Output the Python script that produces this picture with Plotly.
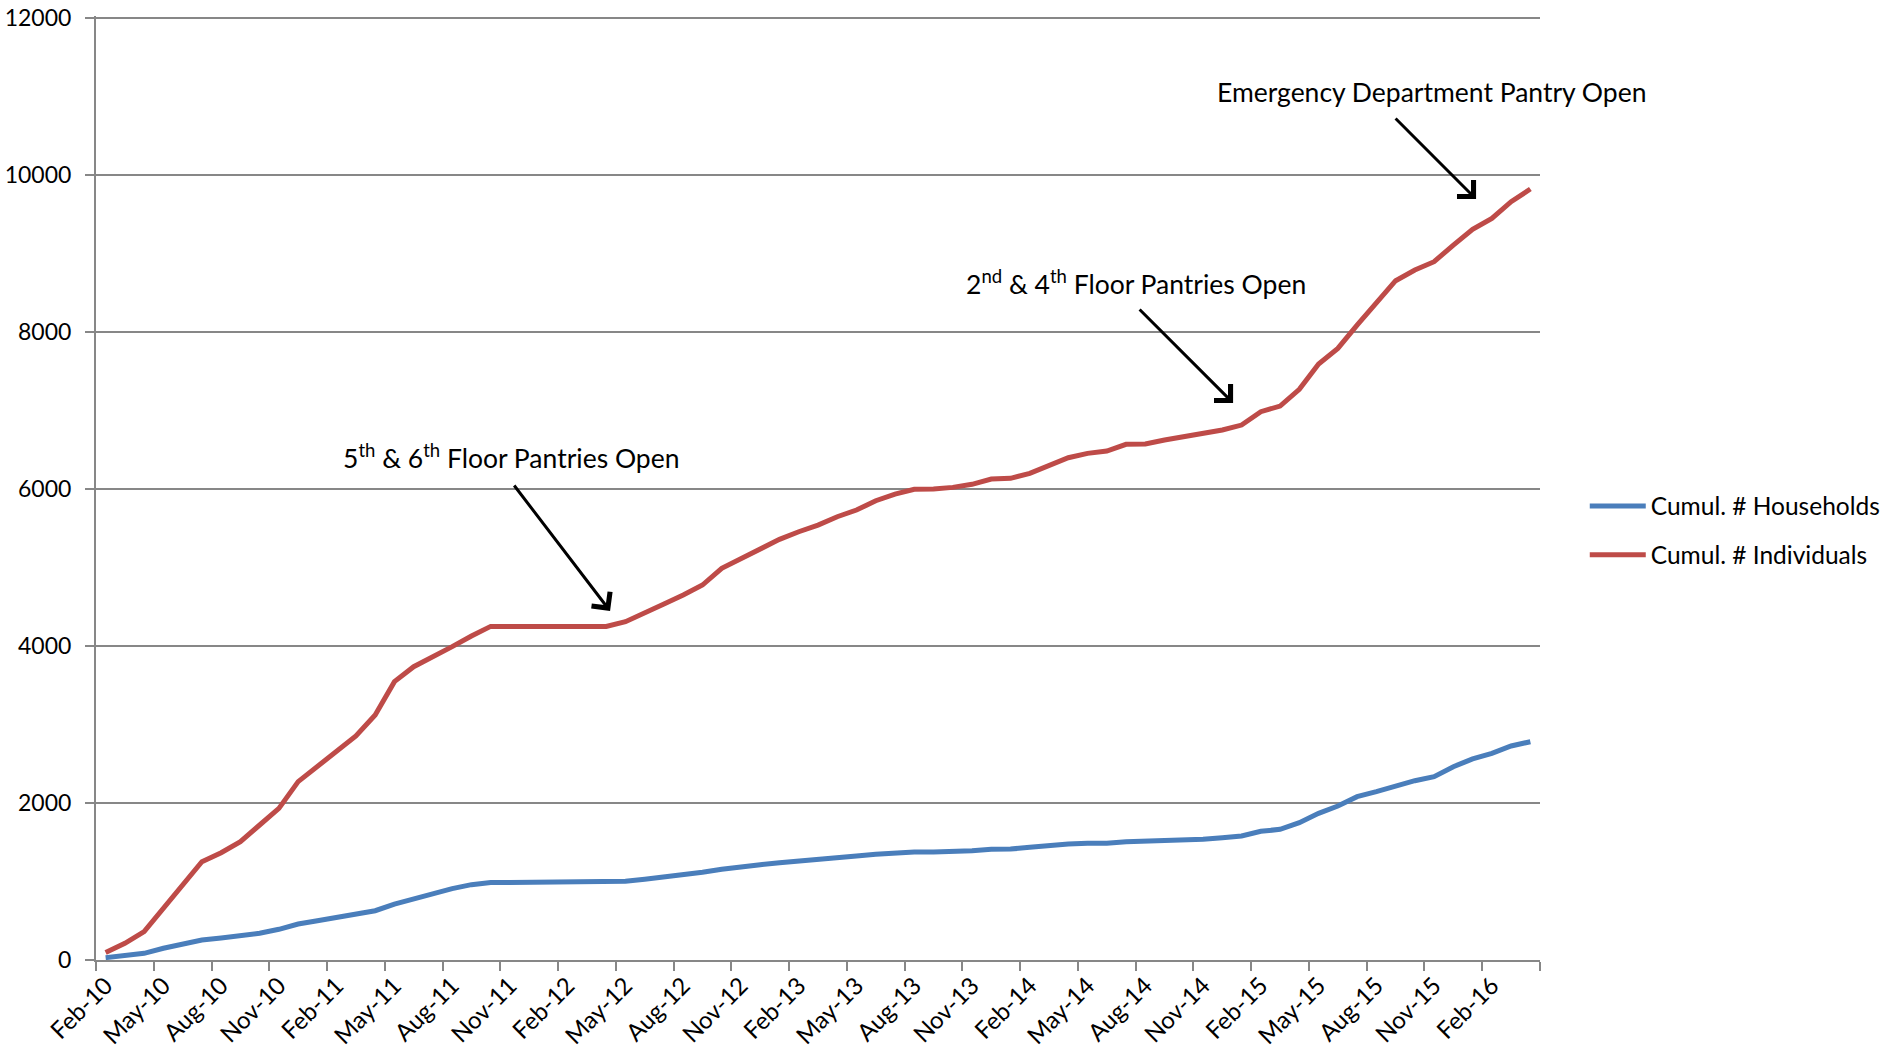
import plotly.graph_objects as go

# ---- data ----
months = ["Jan", "Feb", "Mar", "Apr", "May", "Jun", "Jul", "Aug", "Sep", "Oct", "Nov", "Dec"]
categories = []
for k in range(75):
    m = (1 + k) % 12
    y = 10 + (1 + k) // 12
    categories.append(f"{months[m]}-{y:02d}")

households = [30, 51, 85, 149, 204, 255, 280, 306, 340, 391,
              459, 501, 539, 577, 628, 713, 781, 849, 909, 960,
              987, 987, 987, 987, 987, 987, 987, 1002, 1028, 1053,
              1083, 1117, 1155, 1189, 1214, 1240, 1265, 1284, 1304, 1325,
              1346, 1363, 1376, 1376, 1380, 1393, 1410, 1414, 1435, 1461,
              1478, 1486, 1486, 1507, 1512, 1520, 1529, 1537, 1558, 1580,
              1639, 1665, 1749, 1869, 1962, 2081, 2144, 2217, 2284, 2335,
              2463, 2561, 2633, 2726, 2781]

individuals = [95, 212, 361, 658, 955, 1252, 1367, 1507, 1720, 1932,
               2272, 2463, 2654, 2854, 3121, 3546, 3737, 3856, 3992, 4127,
               4250, 4250, 4250, 4250, 4250, 4250, 4250, 4310, 4416, 4535,
               4650, 4777, 4990, 5117, 5245, 5359, 5456, 5541, 5647, 5732,
               5851, 5936, 5996, 6000, 6021, 6060, 6127, 6136, 6200, 6306,
               6399, 6454, 6484, 6569, 6573, 6624, 6667, 6709, 6752, 6815,
               6985, 7057, 7270, 7592, 7792, 8089, 8365, 8654, 8790, 8896,
               9108, 9308, 9448, 9660, 9822]

tick_idx = list(range(0, 75, 3))
tick_labels = [categories[i] for i in tick_idx]
y_ticks = [0, 2000, 4000, 6000, 8000, 10000, 12000]

# annotation events: (text, category index of arrow tip, value at tip, arrow offsets, text pos)
events = [
    ("5<sup>th</sup> &amp; 6<sup>th</sup> Floor Pantries Open", 26.2, 4446, -97, -127, 21.05, 6408),
    ("2<sup>nd</sup> &amp; 4<sup>th</sup> Floor Pantries Open", 58.56, 7096, -95, -95, 53.5, 8637),
    ("Emergency Department Pantry Open", 71.18, 9694, -82, -82, 68.84, 11057),
]

FONT = "Lato"
x = list(range(len(categories)))

fig = go.Figure()
fig.add_trace(go.Scatter(x=x, y=households, mode="lines", name="Cumul. # Households",
                         line=dict(color="#4A7EBB", width=5), legendgroup="a"))
fig.add_trace(go.Scatter(x=x, y=individuals, mode="lines", name="Cumul. # Individuals",
                         line=dict(color="#BE4B48", width=5), legendgroup="b"))

annotations = []
for text, xh, yh, ax, ay, xt, yt in events:
    annotations.append(dict(x=xh, y=yh, xref="x", yref="y", text="", showarrow=True,
                            ax=ax, ay=ay, arrowhead=4, arrowsize=1.5, arrowwidth=3,
                            arrowcolor="black"))
    annotations.append(dict(x=xt, y=yt, xref="x", yref="y", text=text, showarrow=False,
                            font=dict(family=FONT, size=26.5, color="black"),
                            xanchor="center", yanchor="middle"))

fig.update_layout(
    width=1883, height=1056,
    margin=dict(l=96, r=343, t=16, b=96, autoexpand=False),
    paper_bgcolor="white", plot_bgcolor="white",
    font=dict(family=FONT, size=24, color="black"),
    showlegend=True,
    legend=dict(x=1.031, y=0.455, xanchor="left", yanchor="middle",
                font=dict(family=FONT, size=24.5, color="black"),
                tracegroupgap=14, itemwidth=56, bgcolor="rgba(0,0,0,0)",
                borderwidth=0),
    annotations=annotations,
)

fig.update_xaxes(range=[-0.5, 74.5], tickmode="array", tickvals=tick_idx, ticktext=tick_labels,
                 tickangle=-45, ticks="", showgrid=False, zeroline=False, automargin=False,
                 showline=True, linecolor="#878787", linewidth=2,
                 tickfont=dict(family=FONT, size=24, color="black"),
                 minor=dict(tick0=-0.5, dtick=3, ticks="outside", ticklen=9,
                            tickcolor="#878787", tickwidth=2, showgrid=False))
fig.update_yaxes(range=[0, 12026], tickmode="array", tickvals=y_ticks,
                 ticktext=[str(v) for v in y_ticks], showgrid=True,
                 gridcolor="#878787", gridwidth=1.5, automargin=False,
                 zeroline=False, showline=True, linecolor="#878787", linewidth=2,
                 ticks="outside", ticklen=9, tickcolor="#878787", tickwidth=2,
                 ticklabeloverflow="allow",
                 tickfont=dict(family=FONT, size=23, color="black"), ticklabelstandoff=9)

fig.write_html("out.html", config={"displayModeBar": False},
               post_script="document.body.style.margin='0';")
